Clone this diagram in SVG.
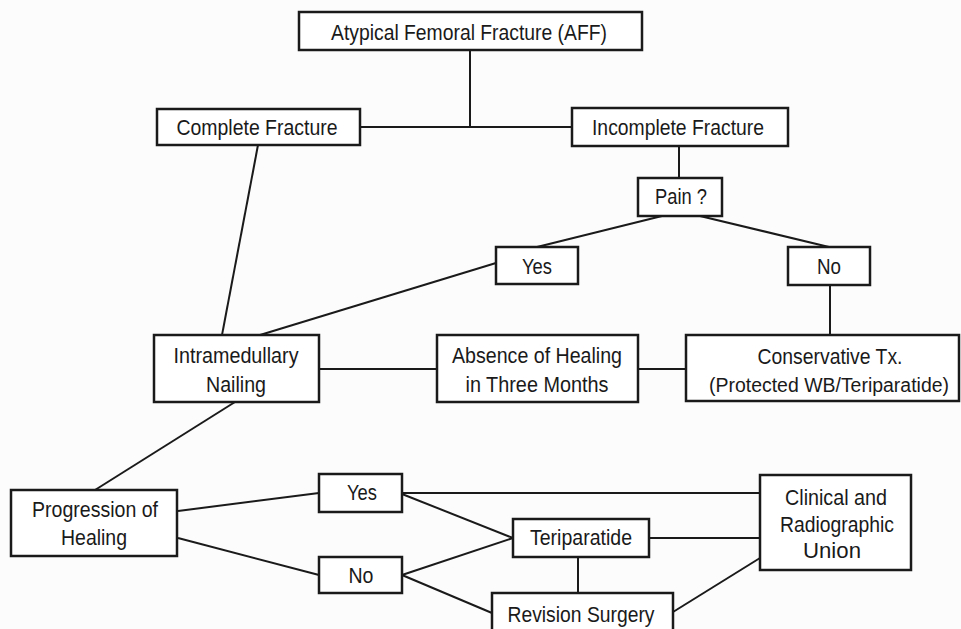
<svg xmlns="http://www.w3.org/2000/svg" width="961" height="629" viewBox="0 0 961 629">
<style>
.box{fill:#ffffff;stroke:#1a1a1a;stroke-width:2.5}
.ln{stroke:#1a1a1a;stroke-width:2;fill:none}
text{font-family:"Liberation Sans",Arial,sans-serif;font-size:21.5px;fill:#1a1a1a;text-anchor:middle}
</style>
<rect width="961" height="629" fill="#fcfcfd"/>
<g id="connectors">
<line class="ln" x1="470" y1="50" x2="470" y2="127"/>
<line class="ln" x1="360" y1="127" x2="572" y2="127"/>
<line class="ln" x1="258" y1="145" x2="222" y2="335"/>
<line class="ln" x1="679" y1="146" x2="679" y2="178"/>
<line class="ln" x1="662" y1="216" x2="537" y2="247"/>
<line class="ln" x1="700" y1="216" x2="829" y2="247"/>
<line class="ln" x1="496" y1="263" x2="260" y2="335"/>
<line class="ln" x1="830" y1="285" x2="830" y2="335"/>
<line class="ln" x1="319" y1="369" x2="437" y2="369"/>
<line class="ln" x1="638" y1="369" x2="686" y2="369"/>
<line class="ln" x1="235" y1="402" x2="95" y2="490"/>
<line class="ln" x1="178" y1="511" x2="319" y2="493"/>
<line class="ln" x1="178" y1="538" x2="319" y2="575"/>
<line class="ln" x1="402" y1="493" x2="760" y2="493"/>
<line class="ln" x1="402" y1="494" x2="513" y2="538"/>
<line class="ln" x1="402" y1="575" x2="513" y2="538"/>
<line class="ln" x1="402" y1="575" x2="492" y2="613"/>
<line class="ln" x1="649" y1="538" x2="760" y2="538"/>
<line class="ln" x1="578" y1="557" x2="578" y2="593"/>
<line class="ln" x1="673" y1="612" x2="760" y2="558"/>
</g>
<g id="aff"><rect class="box" x="299" y="12" width="343" height="38"/><text x="469" y="40" textLength="276" lengthAdjust="spacingAndGlyphs">Atypical Femoral Fracture (AFF)</text></g>
<g id="complete"><rect class="box" x="157" y="109" width="203" height="36"/><text x="257" y="135" textLength="161" lengthAdjust="spacingAndGlyphs">Complete Fracture</text></g>
<g id="incomplete"><rect class="box" x="572" y="108" width="216" height="38"/><text x="678" y="135" textLength="172" lengthAdjust="spacingAndGlyphs">Incomplete Fracture</text></g>
<g id="pain"><rect class="box" x="638" y="178" width="84" height="38"/><text x="681" y="204" textLength="52" lengthAdjust="spacingAndGlyphs">Pain ?</text></g>
<g id="yes1"><rect class="box" x="496" y="247" width="82" height="37"/><text x="537" y="274" textLength="30" lengthAdjust="spacingAndGlyphs">Yes</text></g>
<g id="no1"><rect class="box" x="788" y="247" width="82" height="38"/><text x="829" y="274" textLength="24" lengthAdjust="spacingAndGlyphs">No</text></g>
<g id="nailing"><rect class="box" x="154" y="335" width="165" height="67"/><text x="236" y="363" textLength="125" lengthAdjust="spacingAndGlyphs">Intramedullary</text><text x="236" y="392" textLength="60" lengthAdjust="spacingAndGlyphs">Nailing</text></g>
<g id="absence"><rect class="box" x="437" y="335" width="201" height="67"/><text x="537" y="363" textLength="170" lengthAdjust="spacingAndGlyphs">Absence of Healing</text><text x="537" y="392" textLength="143" lengthAdjust="spacingAndGlyphs">in Three Months</text></g>
<g id="conservative"><rect class="box" x="686" y="335" width="273" height="66"/><text x="830" y="364" textLength="145" lengthAdjust="spacingAndGlyphs">Conservative Tx.</text><text x="829" y="392" style="font-size:19.5px" textLength="240" lengthAdjust="spacingAndGlyphs">(Protected WB/Teriparatide)</text></g>
<g id="progression"><rect class="box" x="11" y="490" width="166" height="66"/><text x="95" y="517" textLength="126" lengthAdjust="spacingAndGlyphs">Progression of</text><text x="94" y="545" textLength="66" lengthAdjust="spacingAndGlyphs">Healing</text></g>
<g id="yes2"><rect class="box" x="319" y="474" width="83" height="38"/><text x="362" y="500" textLength="30" lengthAdjust="spacingAndGlyphs">Yes</text></g>
<g id="no2"><rect class="box" x="319" y="557" width="83" height="36"/><text x="361" y="583" textLength="25" lengthAdjust="spacingAndGlyphs">No</text></g>
<g id="teriparatide"><rect class="box" x="513" y="519" width="136" height="38"/><text x="581" y="545" textLength="102" lengthAdjust="spacingAndGlyphs">Teriparatide</text></g>
<g id="revision"><rect class="box" x="492" y="593" width="181" height="50"/><text x="581" y="622" textLength="147" lengthAdjust="spacingAndGlyphs">Revision Surgery</text></g>
<g id="union"><rect class="box" x="760" y="475" width="151" height="95"/><text x="836" y="505" textLength="102" lengthAdjust="spacingAndGlyphs">Clinical and</text><text x="837" y="532" textLength="114" lengthAdjust="spacingAndGlyphs">Radiographic</text><text x="832" y="558" textLength="58" lengthAdjust="spacingAndGlyphs">Union</text></g>
</svg>
